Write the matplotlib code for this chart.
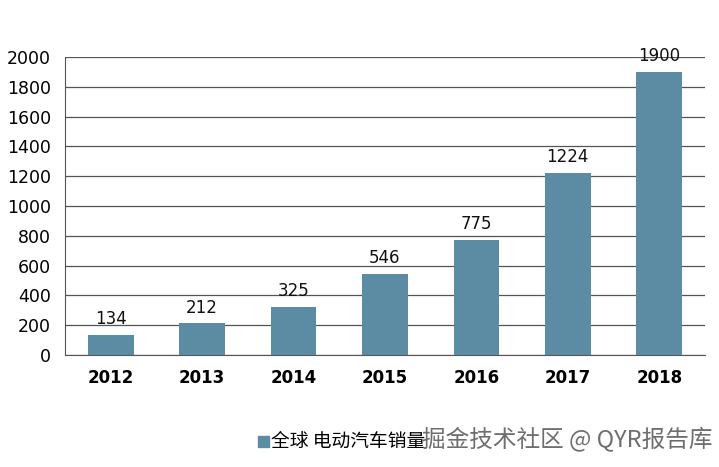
import matplotlib.pyplot as plt

plt.rcParams['font.family'] = ['Noto Sans CJK SC', 'DejaVu Sans']

years = ["2012", "2013", "2014", "2015", "2016", "2017", "2018"]
sales = [134, 212, 325, 546, 775, 1224, 1900]
series_name = "全球 电动汽车销量"
footer = "掘金技术社区 @ QYR报告库"

fig = plt.figure(figsize=(7.19, 4.67), dpi=100)
ax = fig.add_axes([0.0904, 0.2398, 0.89, 0.638])

bar_color = "#5b8ca3"
x = range(len(years))
bars = ax.bar(x, sales, width=0.5, color=bar_color, zorder=3, label=series_name)

for xi, v in zip(x, sales):
    ax.text(xi, v + 45, str(v), ha="center", va="bottom", fontsize=12,
            family="DejaVu Sans", color="#111111")

ax.set_xlim(-0.5, len(years) - 0.5)
ax.set_ylim(0, 2000)
ax.set_yticks(range(0, 2001, 200))
ax.set_xticks(list(x))
ax.set_xticklabels(years, fontsize=12, fontweight="bold", family="DejaVu Sans")
ax.tick_params(axis="y", labelsize=12.5, length=0, pad=10)
ax.tick_params(axis="x", length=0, pad=10)
for lab in ax.get_yticklabels():
    lab.set_family("DejaVu Sans")

ax.grid(axis="y", color="#555555", linewidth=0.9, zorder=0)
for side in ["top", "right"]:
    ax.spines[side].set_visible(False)
ax.spines["left"].set_color("#555555")
ax.spines["bottom"].set_color("#555555")

# legend at bottom
fig.patches.append(plt.Rectangle((258 / 719, 1 - 447 / 467), 11 / 719, 11 / 467,
                                 transform=fig.transFigure, color=bar_color))
fig.text(271 / 719, 1 - 441 / 467, series_name, fontsize=13.5, va="center", ha="left")
fig.text(712 / 719, 1 - 440 / 467, footer, fontsize=17, va="center", ha="right",
         color="#6e6e6e")

fig.savefig("out.png", dpi=100)
